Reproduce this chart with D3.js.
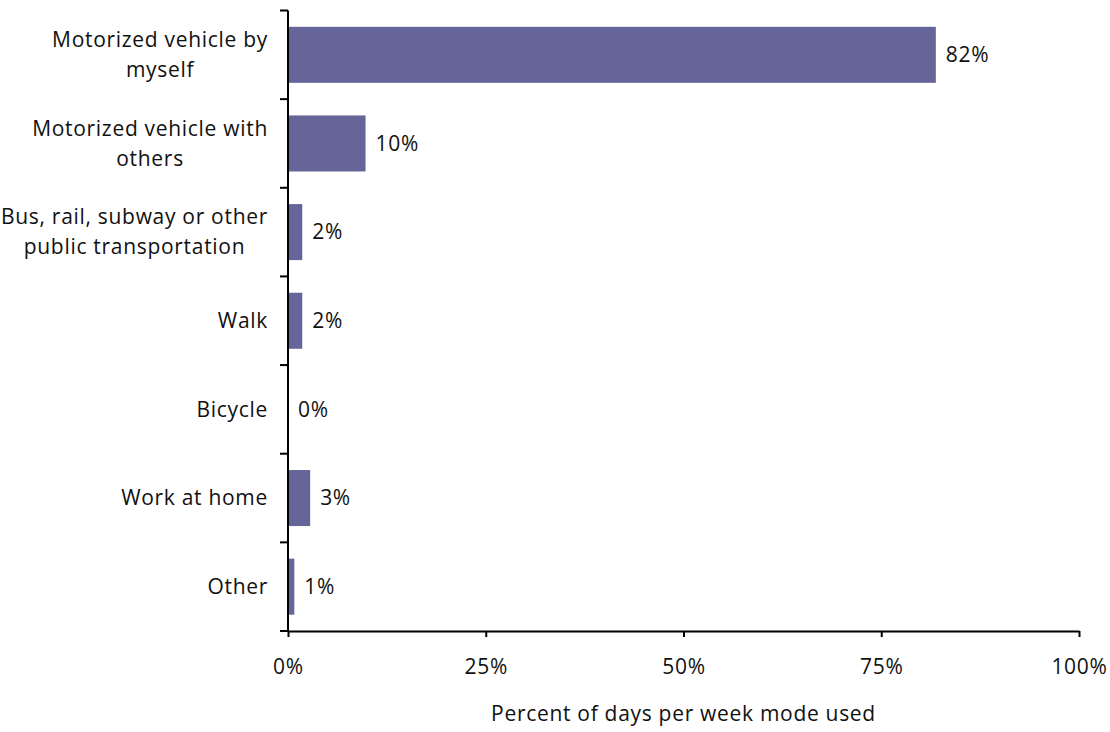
<!DOCTYPE html>
<html>
<head>
<meta charset="utf-8">
<script src="https://cdn.jsdelivr.net/npm/d3@7"></script>
<style>
html,body{margin:0;padding:0;background:#fff;}
svg text{font-family:"Open Sans", Lato, sans-serif;fill:#111;letter-spacing:0.7px;}
</style>
</head>
<body>
<svg id="chart" width="1110" height="732"></svg>
<script>
const categories = [
  ["Motorized vehicle by", "myself"],
  ["Motorized vehicle with", "others"],
  ["Bus, rail, subway or other", "public transportation"],
  ["Walk"],
  ["Bicycle"],
  ["Work at home"],
  ["Other"]
];
const values = [81.9, 9.8, 1.8, 1.8, 0, 2.8, 0.8];
const valueLabels = ["82%", "10%", "2%", "2%", "0%", "3%", "1%"];
const xTicks = [0, 25, 50, 75, 100];
const xTitle = "Percent of days per week mode used";

const svg = d3.select("#chart");
const margin = {left: 288, right: 31, top: 10.5, bottom: 101};
const W = 1110, H = 732;
const fontSize = 21;
const ids = categories.map((c, i) => i);

const x = d3.scaleLinear().domain([0, 100]).range([margin.left, W - margin.right]);
const pad = 0.368;
const y = d3.scaleBand().domain(ids).range([margin.top, H - margin.bottom])
  .paddingInner(pad).paddingOuter(pad / 2);

const barColor = "#656599";

svg.append("g").selectAll("rect").data(values).join("rect")
  .attr("x", x(0))
  .attr("y", (d, i) => y(i))
  .attr("width", d => x(d) - x(0))
  .attr("height", y.bandwidth())
  .attr("fill", barColor);

svg.append("g").selectAll("text").data(values).join("text")
  .attr("x", d => x(d) + 10)
  .attr("y", (d, i) => y(i) + y.bandwidth() / 2)
  .attr("dy", "0.35em")
  .style("font-size", fontSize + "px")
  .text((d, i) => valueLabels[i]);

const xAxis = d3.axisBottom(x).tickValues(xTicks).tickFormat(d => d + "%")
  .tickSize(6).tickPadding(22).tickSizeOuter(0);
const gx = svg.append("g").attr("transform", `translate(0,${H - margin.bottom})`).call(xAxis);
gx.select(".domain").attr("stroke", "#000").attr("stroke-width", 2);
gx.selectAll(".tick line").attr("stroke", "#000").attr("stroke-width", 2);
gx.selectAll(".tick text").style("font-size", fontSize + "px").attr("fill", "#111")
  .style("font-family", '"Open Sans", Lato, sans-serif');

const step = y.step();
const bounds = ids.map(i => y(i) - step * pad / 2).concat([H - margin.bottom]);
const gy = svg.append("g");
gy.append("line")
  .attr("x1", x(0)).attr("x2", x(0))
  .attr("y1", bounds[0]).attr("y2", bounds[bounds.length - 1])
  .attr("stroke", "#000").attr("stroke-width", 2);
gy.selectAll("line.tk").data(bounds).join("line").attr("class", "tk")
  .attr("x1", x(0) - 8).attr("x2", x(0))
  .attr("y1", d => d).attr("y2", d => d)
  .attr("stroke", "#000").attr("stroke-width", 2);

const lineH = 30;
const labG = svg.append("g");
categories.forEach((lines, i) => {
  const cy = y(i) + y.bandwidth() / 2;
  const t = labG.append("text")
    .style("font-size", fontSize + "px")
    .attr("y", cy);
  lines.forEach((ln, j) => {
    t.append("tspan").attr("x", 0)
      .attr("y", cy + (j - (lines.length - 1) / 2) * lineH)
      .attr("dy", "0.35em")
      .attr("text-anchor", "middle")
      .text(ln);
  });
  const bb = t.node().getBBox();
  const w = bb.width;
  t.selectAll("tspan").attr("x", 268 - w / 2);
});

svg.append("text")
  .attr("x", (x(0) + x(100)) / 2)
  .attr("y", 721)
  .attr("text-anchor", "middle")
  .style("font-size", fontSize + "px")
  .text(xTitle);
</script>
</body>
</html>
